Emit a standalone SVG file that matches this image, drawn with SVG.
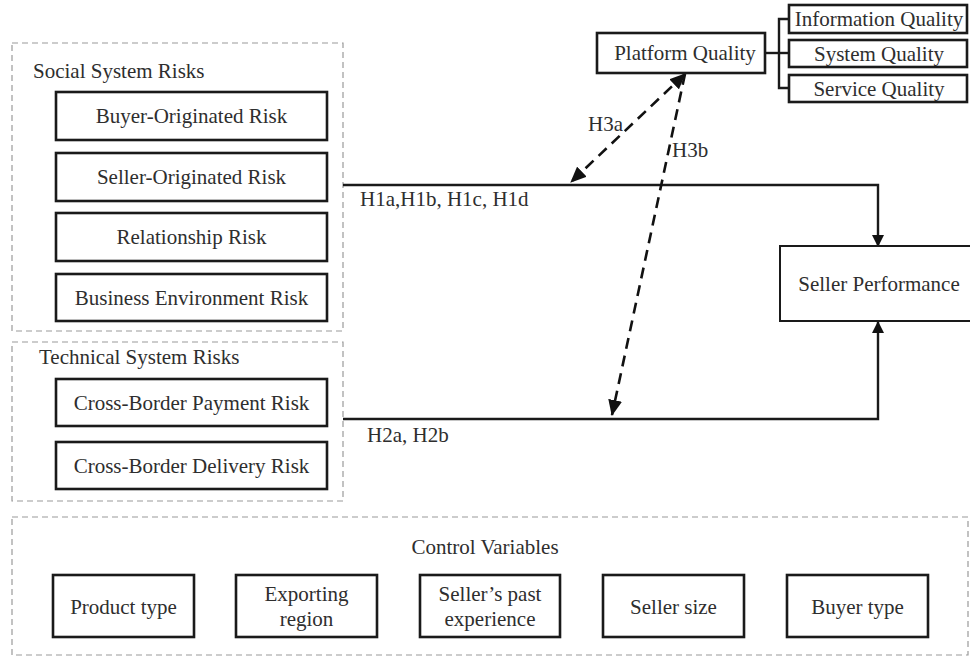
<svg xmlns="http://www.w3.org/2000/svg" width="970" height="661" viewBox="0 0 970 661" font-family="'Liberation Serif', 'DejaVu Serif', serif">
  <defs>
    <style>
      .bg { fill: #ffffff; }
      .frame { fill: none; stroke: #9a9a9a; stroke-width: 1.2; stroke-dasharray: 6 4; }
      .box { fill: #ffffff; stroke: #1a1a1a; stroke-width: 2.6; }
      .box-thin { fill: #ffffff; stroke: #1a1a1a; stroke-width: 2; }
      .lbl { font-family: 'Liberation Serif', 'DejaVu Serif', serif; font-size: 21px; fill: #2e2e2e; }
      .mid { text-anchor: middle; }
      .wire { fill: none; stroke: #1a1a1a; stroke-width: 2.4; }
      .dash { fill: none; stroke: #111111; stroke-width: 2.6; stroke-dasharray: 11 7; }
    </style>
    <marker id="tri" viewBox="0 0 12 12" refX="11" refY="6" markerWidth="12" markerHeight="12" markerUnits="userSpaceOnUse" orient="auto">
      <path d="M0,0 L12,6 L0,12 Z" fill="#111111"/>
    </marker>
    <marker id="triBig" viewBox="0 0 16 14" refX="15" refY="7" markerWidth="16" markerHeight="14" markerUnits="userSpaceOnUse" orient="auto-start-reverse">
      <path d="M0,0 L16,7 L0,14 Z" fill="#111111"/>
    </marker>
  </defs>

  <rect class="bg" x="0" y="0" width="970" height="661"/>

  <!-- grouping frames -->
  <g id="social-system-risks">
    <rect class="frame" x="12" y="43" width="331" height="288"/>
    <text class="lbl" x="33" y="78">Social System Risks</text>
  </g>
  <g id="technical-system-risks">
    <rect class="frame" x="12" y="342" width="331" height="159"/>
    <text class="lbl" x="39" y="364">Technical System Risks</text>
  </g>
  <g id="control-variables">
    <rect class="frame" x="12" y="517" width="956" height="138"/>
    <text class="lbl mid" x="485" y="554">Control Variables</text>
  </g>

  <!-- connectors -->
  <g id="connectors">
    <polyline class="wire" points="343,185 878,185 878,246" marker-end="url(#tri)"/>
    <polyline class="wire" points="343,419 878,419 878,322" marker-end="url(#tri)"/>
    <line class="dash" x1="685" y1="74" x2="571" y2="182" marker-start="url(#triBig)" marker-end="url(#triBig)"/>
    <line class="dash" x1="685" y1="74" x2="612" y2="415" marker-end="url(#triBig)"/>
    <!-- platform quality bracket -->
    <polyline class="wire" points="765,53 779,53"/>
    <polyline class="wire" points="789,19 779,19 779,88 789,88"/>
    <line class="wire" x1="779" y1="53" x2="789" y2="53"/>
    <text class="lbl" x="360" y="206">H1a,H1b, H1c, H1d</text>
    <text class="lbl" x="367" y="442">H2a, H2b</text>
    <text class="lbl" x="588" y="131">H3a</text>
    <text class="lbl" x="672" y="157">H3b</text>
  </g>

  <!-- social risk nodes -->
  <g id="buyer-originated-risk">
    <rect class="box" x="56" y="92" width="271" height="48"/>
    <text class="lbl mid" x="191.5" y="123">Buyer-Originated Risk</text>
  </g>
  <g id="seller-originated-risk">
    <rect class="box" x="56" y="153" width="271" height="48"/>
    <text class="lbl mid" x="191.5" y="184">Seller-Originated Risk</text>
  </g>
  <g id="relationship-risk">
    <rect class="box" x="56" y="213" width="271" height="48"/>
    <text class="lbl mid" x="191.5" y="244">Relationship Risk</text>
  </g>
  <g id="business-environment-risk">
    <rect class="box" x="56" y="274" width="271" height="47"/>
    <text class="lbl mid" x="191.5" y="305">Business Environment Risk</text>
  </g>

  <!-- technical risk nodes -->
  <g id="cross-border-payment-risk">
    <rect class="box" x="56" y="379" width="271" height="47"/>
    <text class="lbl mid" x="191.5" y="410">Cross-Border Payment Risk</text>
  </g>
  <g id="cross-border-delivery-risk">
    <rect class="box" x="56" y="442" width="271" height="47"/>
    <text class="lbl mid" x="191.5" y="473">Cross-Border Delivery Risk</text>
  </g>

  <!-- platform quality -->
  <g id="platform-quality">
    <rect class="box" x="597" y="33" width="168" height="40"/>
    <text class="lbl mid" x="685" y="60">Platform Quality</text>
  </g>
  <g id="information-quality">
    <rect class="box" x="789" y="5" width="178" height="28"/>
    <text class="lbl mid" x="879" y="26">Information Quality</text>
  </g>
  <g id="system-quality">
    <rect class="box" x="789" y="40" width="178" height="27"/>
    <text class="lbl mid" x="879" y="61">System Quality</text>
  </g>
  <g id="service-quality">
    <rect class="box" x="789" y="75" width="178" height="27"/>
    <text class="lbl mid" x="879" y="96">Service Quality</text>
  </g>

  <!-- outcome -->
  <g id="seller-performance">
    <rect class="box-thin" x="780" y="246" width="192" height="75"/>
    <text class="lbl mid" x="879" y="291">Seller Performance</text>
  </g>

  <!-- control variable nodes -->
  <g id="product-type">
    <rect class="box" x="53" y="575" width="141" height="62"/>
    <text class="lbl mid" x="123.5" y="614">Product type</text>
  </g>
  <g id="exporting-region">
    <rect class="box" x="236" y="575" width="141" height="62"/>
    <text class="lbl mid" x="306.5" y="601">Exporting</text>
    <text class="lbl mid" x="306.5" y="626">region</text>
  </g>
  <g id="sellers-past-experience">
    <rect class="box" x="420" y="575" width="140" height="62"/>
    <text class="lbl mid" x="490" y="601">Seller’s past</text>
    <text class="lbl mid" x="490" y="626">experience</text>
  </g>
  <g id="seller-size">
    <rect class="box" x="603" y="575" width="141" height="62"/>
    <text class="lbl mid" x="673.5" y="614">Seller size</text>
  </g>
  <g id="buyer-type">
    <rect class="box" x="787" y="575" width="141" height="62"/>
    <text class="lbl mid" x="857.5" y="614">Buyer type</text>
  </g>
</svg>
